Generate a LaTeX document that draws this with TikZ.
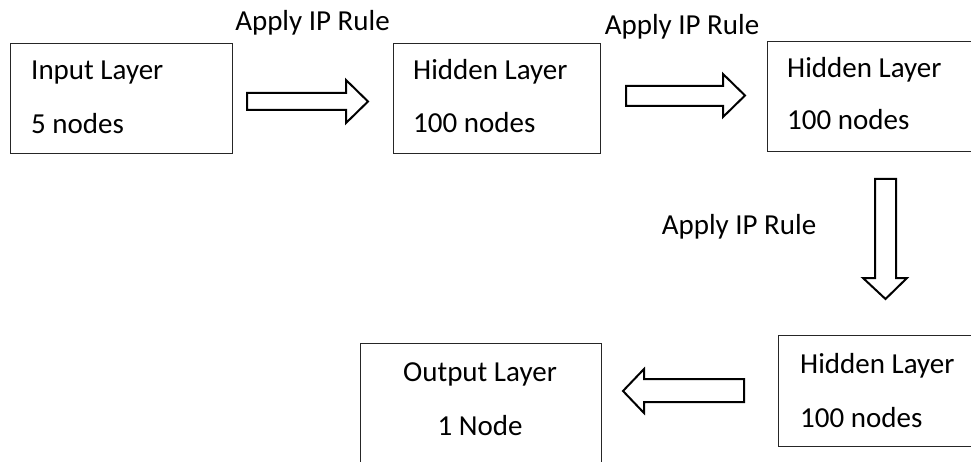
\documentclass[tikz,border=0pt]{standalone}
\usepackage{fontspec}
\setmainfont{Carlito}
\begin{document}
\begin{tikzpicture}[x=1pt,y=-1pt,
  box/.style={draw=black!85, line width=1.3pt, anchor=north west, inner sep=0pt},
  lbl/.style={anchor=base west, inner sep=0pt, font=\fontsize{29}{35}\selectfont},
  clbl/.style={anchor=base, inner sep=0pt, font=\fontsize{29}{35}\selectfont},
  barrow/.style={draw=black, line width=2pt, line join=miter, fill=white}]
\clip (0,0) rectangle (971,462);
% boxes
\node[box, minimum width=222pt, minimum height=110pt] (inbox) at (10,43) {};
\node[box, minimum width=207pt, minimum height=110pt] (hidA) at (393,43) {};
\node[box, minimum width=260pt, minimum height=110pt] (hidB) at (767,41) {};
\node[box, minimum width=260pt, minimum height=111pt] (hidC) at (778,335) {};
\node[box, minimum width=241pt, minimum height=160pt] (outbox) at (360,343) {};
% box texts
\node[lbl] (inT1) at (31,80) {Input Layer};
\node[lbl] (inT2) at (31,134) {5 nodes};
\node[lbl] (hAT1) at (413,80) {Hidden Layer};
\node[lbl] (hAT2) at (413,133) {100 nodes};
\node[lbl] (hBT1) at (787,78) {Hidden Layer};
\node[lbl] (hBT2) at (787,130) {100 nodes};
\node[lbl] (hCT1) at (800,373) {Hidden Layer};
\node[lbl] (hCT2) at (800,427) {100 nodes};
\node[clbl] (oT1) at (480,381) {Output Layer};
\node[clbl] (oT2) at (480,435) {1 Node};
% rule labels
\node[clbl] (rule1) at (312.5,31) {Apply IP Rule};
\node[clbl] (rule2) at (682,35) {Apply IP Rule};
\node[clbl] (rule3) at (739,235) {Apply IP Rule};
% block arrows
\draw[barrow] (247,93) -- (346,93) -- (346,80) -- (368,101.5) -- (346,123) -- (346,110) -- (247,110) -- cycle;
\draw[barrow] (626,86) -- (723,86) -- (723,74) -- (745,95.5) -- (723,117) -- (723,106) -- (626,106) -- cycle;
\draw[barrow] (875,179) -- (896,179) -- (896,278) -- (907,278) -- (885.5,299) -- (863,278) -- (875,278) -- cycle;
\draw[barrow] (744,379) -- (644,379) -- (644,369) -- (623,391) -- (644,413) -- (644,402) -- (744,402) -- cycle;
\end{tikzpicture}
\end{document}
